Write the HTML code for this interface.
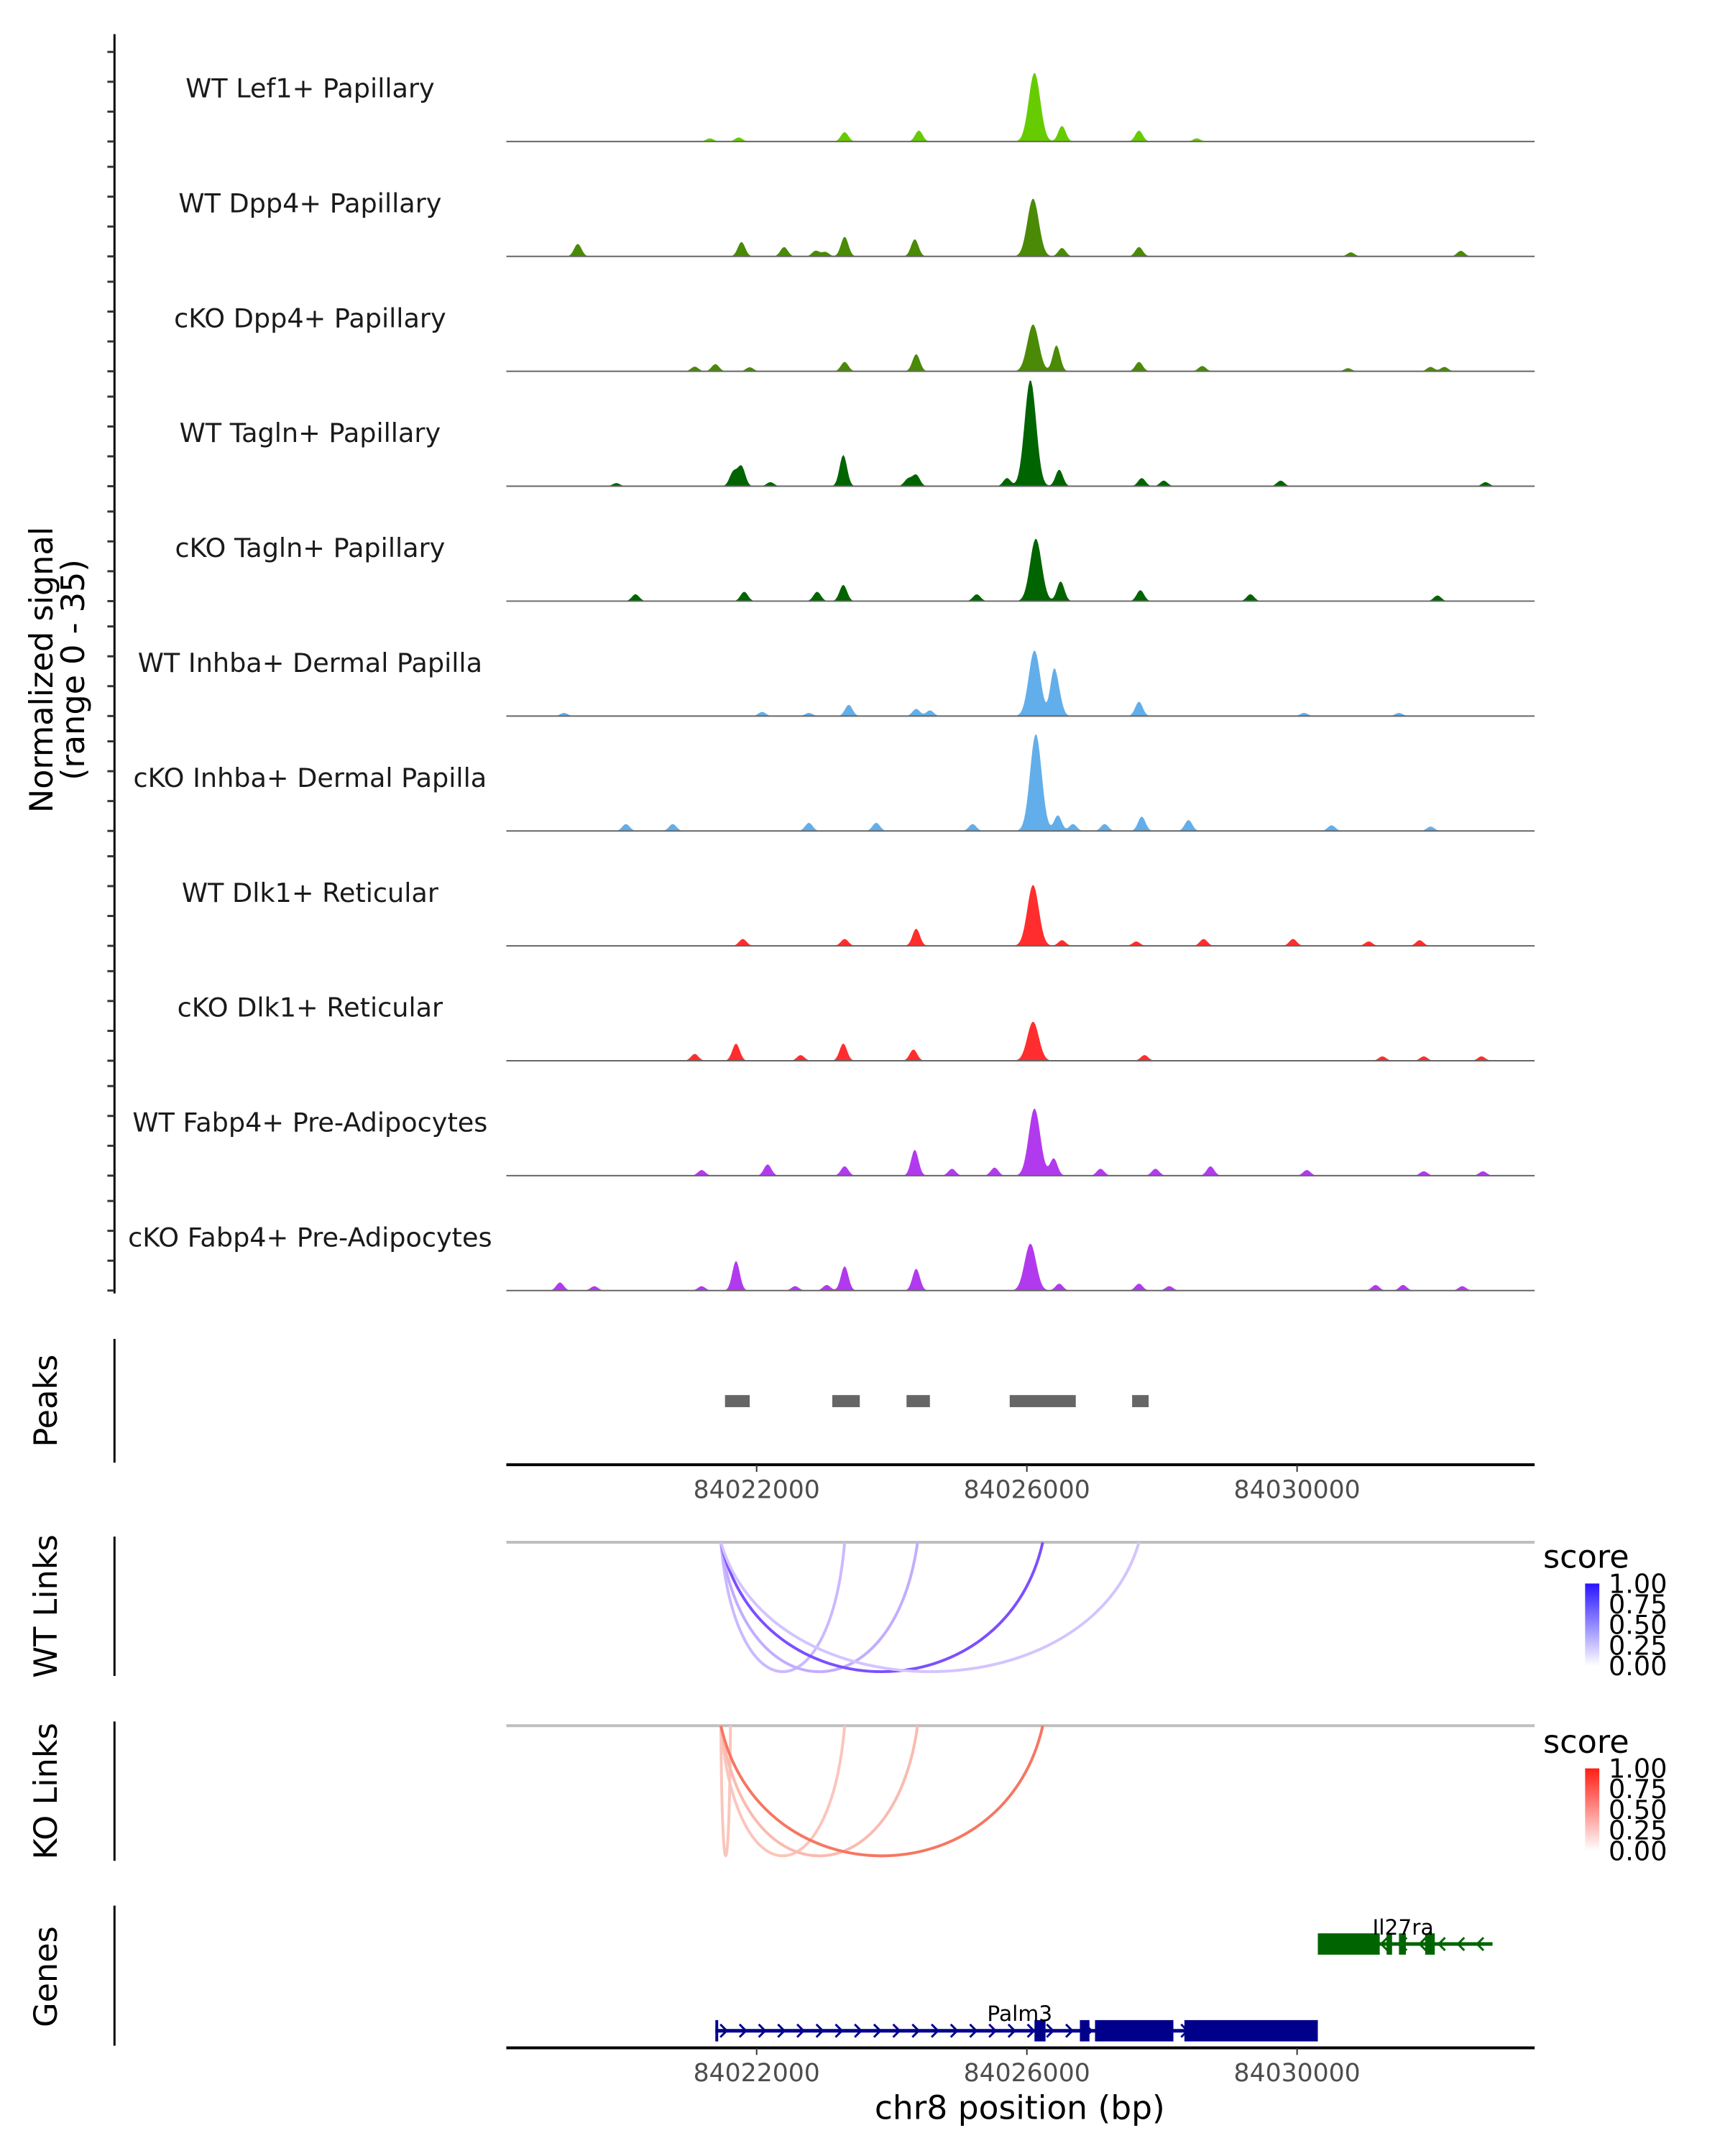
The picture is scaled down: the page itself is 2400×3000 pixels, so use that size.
<!DOCTYPE html>
<html><head><meta charset="utf-8">
<style>
html,body{margin:0;padding:0;background:#fff;}
svg{display:block;font-family:"DejaVu Sans","Liberation Sans",sans-serif;}
</style></head>
<body>
<svg id="fig" width="2400" height="3000" viewBox="0 0 2400 3000" xmlns="http://www.w3.org/2000/svg">
<g transform="scale(0.9894)">
<g id="tracks"></g>
<g id="peaks"></g>
<g id="links"></g>
<g id="genes"></g>
</g>
</svg>
<script>
// ---------- data ----------
const trackNames = ["WT Lef1+ Papillary","WT Dpp4+ Papillary","cKO Dpp4+ Papillary","WT Tagln+ Papillary","cKO Tagln+ Papillary","WT Inhba+ Dermal Papilla","cKO Inhba+ Dermal Papilla","WT Dlk1+ Reticular","cKO Dlk1+ Reticular","WT Fabp4+ Pre-Adipocytes","cKO Fabp4+ Pre-Adipocytes"];
const trackColors = ["#66cc00","#4a8a06","#4a8a06","#006400","#006400","#62aeea","#62aeea","#ff2d2d","#ff2d2d","#b23aee","#b23aee"];
// peak centres (bp) and heights (signal units) per track
const peakPos = [
 [84026113,84026520,84027660,84024402,84023303,84021735,84021308,84028515],
 [84026092,84019353,84021776,84023303,84024341,84022407,84026520,84027660,84032424,84030796,84022875,84023018],
 [84026092,84026438,84024362,84023303,84027660,84021389,84021084,84021898,84028596,84031976,84032180,84030755],
 [84026052,84021776,84021654,84023283,84024362,84024240,84026479,84025706,84027701,84028026,84029757,84032791,84019923,84022204],
 [84026133,84026500,84023283,84021817,84020208,84027680,84022896,84025258,84029309,84032078],
 [84026113,84026398,84026479,84027660,84023364,84024362,84024565,84022081,84022774,84019150,84031508,84030103],
 [84026133,84026459,84027701,84028393,84022774,84023771,84020066,84020758,84025197,84026683,84027151,84030510,84031976],
 [84026092,84024362,84021796,84023303,84026520,84028616,84029940,84031814,84027619,84031060],
 [84026092,84021695,84023283,84024321,84021084,84022652,84027741,84032730,84031264,84031875],
 [84026113,84026398,84024341,84022163,84023303,84024891,84027090,84028718,84027904,84021186,84025522,84030144,84031875,84032750],
 [84026052,84021695,84023303,84024362,84019089,84019598,84023038,84026479,84027660,84031162,84031569,84032445,84021186,84022570,84028108]
];
const peakHeight = [
 [22,5,3.5,3.5,3,1.3,1,1],
 [18.5,4,4.6,6.3,5.5,3,2.7,3,1.8,1.3,1.8,1.4],
 [15,8.3,5.5,3,3,2.3,1.5,1.3,1.7,1.4,1.4,1],
 [34,6.3,4.5,10,3.6,2.3,5.3,2.6,2.6,1.8,1.8,1.3,1,1.3],
 [20,6.3,5.2,3,2.2,3.5,3,2.2,2.2,1.8],
 [21,13.5,4.6,4.6,3.6,2.3,1.8,1.3,1,1,1,1],
 [31,5,4.6,3.5,2.6,2.6,2.2,2.2,2.2,2.2,2.2,1.8,1.4],
 [19.5,5.5,2.2,2.2,1.8,2.2,2.2,1.8,1.4,1.4],
 [12.5,5.5,5.5,3.6,2.2,1.8,1.8,1.4,1.4,1.4],
 [21.5,5.5,8.3,3.6,3,2.2,2.2,3,2.2,1.8,2.6,1.8,1.4,1.4],
 [15,9.5,7.8,7,2.6,1.4,1.8,2.2,2.2,1.8,1.8,1.4,1.4,1.4,1.4]
];
const xTicks = [84022000,84026000,84030000];
const peakStarts = [84021532,84023120,84024219,84025746,84027558];
const peakEnds   = [84021898,84023527,84024565,84026724,84027803];
const linkAnchor = 84021471;
const wtLinkEnds = [84023303,84024382,84026235,84027660];
const wtLinkScores = [0.3,0.35,0.75,0.25];
const koLinkEnds = [84021613,84023303,84024382,84026235];
const koLinkScores = [0.3,0.3,0.35,0.7];
const legendLabels = ["1.00","0.75","0.50","0.25","0.00"];
const palm3Start = 84021389, palm3End = 84030307;
const palm3ExonStarts = [84021389,84026113,84026785,84027009,84028332];
const palm3ExonEnds   = [84021430,84026276,84026927,84028169,84030307];
const il27Start = 84030307, il27End = 84032893;
const il27ExonStarts = [84030307,84031325,84031508,84031896];
const il27ExonEnds   = [84031223,84031406,84031610,84032038];

// ---------- scales ----------
const X0=712, X1=2158, BP0=84018295, BP1=84033516;
const xs = bp => X0 + (bp-BP0)/(BP1-BP0)*(X1-X0);
const baseY0=199, trackStep=161.6, unitPx=4.4;
const NS="http://www.w3.org/2000/svg";
function mk(tag, attrs, parent, text){
  const e=document.createElementNS(NS,tag);
  for(const k in attrs) e.setAttribute(k,attrs[k]);
  if(text!==undefined) e.textContent=text;
  parent.appendChild(e); return e;
}
const T=document.getElementById('tracks');
let ax=mk('line',{x1:161,y1:48,x2:161,y2:1819,stroke:'#000','stroke-width':3},T);


for(let i=0;i<11;i++){
  const by=baseY0+i*trackStep;
  for(let k=0;k<4;k++){
    const t=mk('line',{x1:151,x2:161,y1:by-k*42,y2:by-k*42,stroke:'#333','stroke-width':3},T);
    
    
  }
}
let yt=mk('text',{transform:'translate(82,942) rotate(-90)','text-anchor':'middle','font-size':45,fill:'#000'},T);


mk('tspan',{x:0,dy:-8},yt,'Normalized signal');
mk('tspan',{x:0,dy:44},yt,'(range 0 - 35)');

for(let i=0;i<11;i++){
  const by=baseY0+i*trackStep;
  const g=mk('g',{},T);
  
  
  const lb=mk('text',{x:436,y:by-62,'text-anchor':'middle','font-size':37,fill:'#1a1a1a'},g,trackNames[i]);
  
  
  let d='M'+X0+','+by;
  const pos=peakPos[i], hs=peakHeight[i];
  for(let px=X0;px<=X1;px+=2){
    const bp=BP0+(px-X0)/(X1-X0)*(BP1-BP0);
    let v=0;
    for(let j=0;j<pos.length;j++){
      const s = j===0?85:55;
      const dd=(bp-pos[j])/s; v+=hs[j]*Math.exp(-0.5*dd*dd);
    }
    v=Math.min(v,35);
    d+=' L'+px+','+(by-v*unitPx).toFixed(1);
  }
  d+=' L'+X1+','+by+' Z';
  const ar=mk('path',{d:d,fill:trackColors[i],stroke:'none'},g);
  
  
  const bl=mk('line',{x1:X0,x2:X1,y1:by,y2:by,stroke:'#666','stroke-width':2},g);
  
  
}

function xAxis(parent,y){
  const l=mk('line',{x1:X0,x2:X1,y1:y,y2:y,stroke:'#000','stroke-width':4},parent);
  
  
  xTicks.forEach(t=>{
    const tk=mk('line',{x1:xs(t),x2:xs(t),y1:y,y2:y+10,stroke:'#333','stroke-width':2},parent);
    
    
    const tl=mk('text',{x:xs(t),y:y+47,'text-anchor':'middle','font-size':35,fill:'#4d4d4d'},parent,String(t));
    
    
  });
}
function panelTitle(parent,text,cy,y1,y2,name){
  const l=mk('line',{x1:161,x2:161,y1:y1,y2:y2,stroke:'#000','stroke-width':3},parent);
  
  
  const t=mk('text',{transform:'translate(80,'+cy+') rotate(-90)','text-anchor':'middle','font-size':45,fill:'#000'},parent,text);
  
  
}

const P=document.getElementById('peaks');
panelTitle(P,'Peaks',1970,1883,2057,'peaks');
peakStarts.forEach((s,i)=>{
  const r=mk('rect',{x:xs(s),y:1962,width:xs(peakEnds[i])-xs(s),height:17,fill:'#666'},P);
  
  
});
xAxis(P,2060);

const L=document.getElementById('links');
function mix(rgb,s){
  const c=rgb.map(v=>Math.round(255+(v-255)*s));
  return `rgb(${c[0]},${c[1]},${c[2]})`;
}
function linkPanel(title,top,bottom,lineY,depthY,ends,scores,rgb,name){
  panelTitle(L,title,(top+bottom)/2,top,bottom,name);
  const bl=mk('line',{x1:X0,x2:X1,y1:lineY,y2:lineY,stroke:'#bfbfbf','stroke-width':4},L);
  
  
  ends.forEach((e,i)=>{
    const a=xs(linkAnchor), b=xs(e), c=lineY+(depthY-lineY)*4/3;
    const col=mix(rgb,scores[i]);
    const p=mk('path',{d:`M${a},${lineY} C${a+(b-a)*0.12},${c} ${b-(b-a)*0.12},${c} ${b},${lineY}`,fill:'none',stroke:col,'stroke-width':4},L);
    
    
  });
}
linkPanel('WT Links',2161,2357,2169,2351,wtLinkEnds,wtLinkScores,[80,20,255],'wt-links');
linkPanel('KO Links',2421,2617,2427,2610,koLinkEnds,koLinkScores,[240,60,30],'ko-links');
function legend(y0,rgb,id,name){
  const g=mk('g',{},L);
  
  
  mk('text',{x:2170,y:y0,'font-size':45,fill:'#000'},g,'score');
  const defs=mk('defs',{},g);
  const lg=mk('linearGradient',{id:id,x1:0,y1:1,x2:0,y2:0},defs);
  mk('stop',{offset:0,'stop-color':'#fff'},lg);
  mk('stop',{offset:1,'stop-color':mix(rgb,1)},lg);
  mk('rect',{x:2229,y:y0+22,width:20,height:116,fill:'url(#'+id+')'},g);
  legendLabels.forEach((t,i)=>{
    const yy=y0+22+i*29;
    mk('text',{x:2262,y:yy+13,'font-size':37,fill:'#000'},g,t);
  });
}
legend(2205,[40,20,255],'gWT','wt-score-legend');
legend(2465,[255,30,20],'gKO','ko-score-legend');

const G=document.getElementById('genes');
panelTitle(G,'Genes',2780,2680,2877,'genes');
function gene(name,start,end,es,ee,y,col,dir,labelX,labelY){
  const g=mk('g',{},G);
  
  
  mk('line',{x1:xs(start),x2:xs(end),y1:y,y2:y,stroke:col,'stroke-width':5},g);
  for(let x=xs(start)+12;x<xs(end)-8;x+=27){
    const pts=dir>0?`${x-5},${y-9} ${x+4},${y} ${x-5},${y+9}`:`${x+5},${y-9} ${x-4},${y} ${x+5},${y+9}`;
    mk('polyline',{points:pts,fill:'none',stroke:col,'stroke-width':3},g);
  }
  es.forEach((s,i)=>{
    mk('rect',{x:xs(s),y:y-15,width:Math.max(4,xs(ee[i])-xs(s)),height:30,fill:col},g);
  });
  const t=mk('text',{x:labelX,y:labelY,'text-anchor':'middle','font-size':30,fill:'#000'},g,name);
  
  
}
gene('Il27ra',il27Start,il27End,il27ExonStarts,il27ExonEnds,2734,'#006400',-1,1973,2721);
gene('Palm3',palm3Start,palm3End,palm3ExonStarts,palm3ExonEnds,2856,'#00008b',1,1434,2842);
xAxis(G,2880);
const xt=mk('text',{x:1434,y:2980,'text-anchor':'middle','font-size':46,fill:'#000'},G,'chr8 position (bp)');


</script>
</body></html>
